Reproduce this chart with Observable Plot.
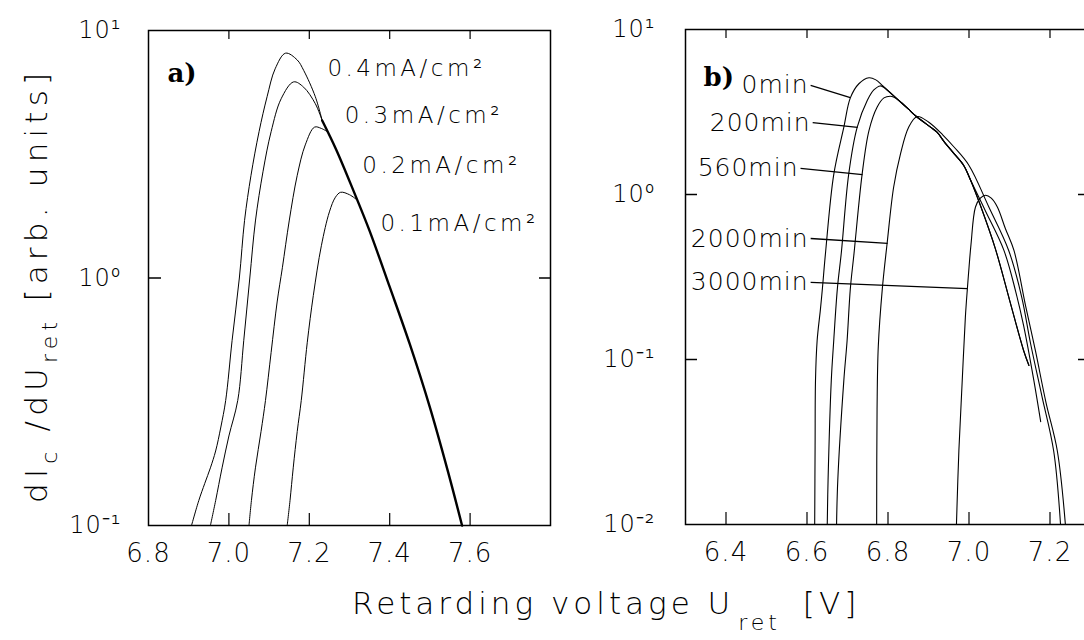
<!DOCTYPE html>
<html><head><meta charset="utf-8">
<script src="https://cdn.jsdelivr.net/npm/d3@7"></script>
<script src="https://cdn.jsdelivr.net/npm/@observablehq/plot@0.6"></script>
<style>
html,body{margin:0;padding:0;background:#fff;overflow:hidden;}
#wrap{position:relative;width:1084px;height:640px;overflow:hidden;background:#fff;}
#wrap > svg{position:absolute;top:0;}
</style></head><body><div id="wrap"></div>
<script>
const FONT = "DejaVu Sans";

// ---------- Panel a data ----------
const xTicksA = [6.8, 7.0, 7.2, 7.4, 7.6];
const xInnerTicksA = [7.0, 7.2, 7.4, 7.6];
const yTicksA = [0.1, 1, 10];
const seriesA = ["0.4mA/cm²", "0.3mA/cm²", "0.2mA/cm²", "0.1mA/cm²"];
const labelAX = [7.245, 7.288, 7.332, 7.377];
const labelAY = [7.02, 4.54, 2.85, 1.66];
const curveA04 = [[6.907,0.1],[6.925,0.126],[6.94,0.148],[6.954,0.171],[6.967,0.2],[6.98,0.25],[6.992,0.32],[7.008,0.56],[7.026,1.0],[7.039,1.71],[7.055,2.6],[7.075,3.9],[7.095,5.4],[7.115,7.0],[7.141,8.1],[7.17,7.6],[7.186,6.9],[7.215,5.4],[7.232,4.33]];
const curveA03 = [[6.954,0.1],[6.967,0.126],[6.983,0.171],[7.0,0.23],[7.022,0.32],[7.037,0.56],[7.052,1.0],[7.066,1.7],[7.085,2.7],[7.105,3.9],[7.13,5.3],[7.161,6.2],[7.186,5.9],[7.215,5.06],[7.232,4.33]];
const curveA02 = [[7.05,0.1],[7.056,0.126],[7.066,0.171],[7.08,0.24],[7.091,0.32],[7.105,0.5],[7.12,0.8],[7.133,1.1],[7.15,1.7],[7.17,2.6],[7.19,3.45],[7.213,4.07],[7.23,4.02],[7.245,3.9]];
const curveA01 = [[7.145,0.1],[7.152,0.126],[7.16,0.171],[7.17,0.24],[7.18,0.32],[7.195,0.55],[7.21,0.85],[7.23,1.35],[7.25,1.85],[7.265,2.12],[7.278,2.22],[7.30,2.17],[7.32,2.06]];
const tailA = [[7.232,4.33],[7.267,3.3],[7.31,2.25],[7.35,1.55],[7.40,0.92],[7.45,0.54],[7.50,0.30],[7.545,0.165],[7.58,0.1]];

// ---------- Panel b data ----------
const xTicksB = [6.4, 6.6, 6.8, 7.0, 7.2];
const yTicksB = [0.01, 0.1, 1, 10];
const yInnerTicksB = [0.1, 1];
const seriesB = ["0min", "200min", "560min", "2000min", "3000min"];
const leadStartX = [6.609, 6.614, 6.584, 6.609, 6.609];
const leadStartY = [4.58, 2.73, 1.44, 0.541, 0.293];
const leadEndX = [6.707, 6.725, 6.737, 6.799, 6.996];
const leadEndY = [3.87, 2.55, 1.32, 0.505, 0.269];
const b0Top = [[6.619,0.01],[6.620,0.03],[6.621,0.075],[6.625,0.13],[6.633,0.2],[6.638,0.269],[6.646,0.45],[6.666,1.32],[6.691,2.56],[6.707,3.85],[6.728,4.69],[6.753,5.1],[6.77,4.95],[6.785,4.6]];
const b200Top = [[6.650,0.01],[6.652,0.0185],[6.660,0.075],[6.666,0.13],[6.675,0.269],[6.685,0.45],[6.703,1.33],[6.724,2.56],[6.749,3.72],[6.765,4.3],[6.781,4.55],[6.79,4.45]];
const mergeB = [[6.798,4.3]];
const b560Top = [[6.673,0.01],[6.676,0.0185],[6.691,0.075],[6.699,0.13],[6.707,0.269],[6.716,0.437],[6.736,1.32],[6.753,2.44],[6.773,3.38],[6.79,3.85],[6.806,3.94],[6.815,3.88]];
const commonB = [[6.827,3.71],[6.85,3.3],[6.868,3.0],[6.905,2.56],[6.921,2.39],[6.938,2.1],[6.963,1.77],[6.987,1.5],[7.004,1.22]];
const b0Tail = [[7.028,0.86],[7.065,0.47],[7.10,0.23],[7.135,0.113],[7.148,0.092]];
const b560Tail = [[7.04,0.8],[7.086,0.46],[7.115,0.26],[7.135,0.16],[7.16,0.075],[7.177,0.042]];
const b2000 = [[6.772,0.01],[6.773,0.05],[6.776,0.12],[6.786,0.269],[6.798,0.51],[6.814,1.11],[6.831,1.77],[6.851,2.56],[6.872,2.97],[6.90,2.75],[6.935,2.3],[6.963,1.94],[7.0,1.5],[7.049,0.84],[7.098,0.458],[7.13,0.24],[7.152,0.125],[7.18,0.06],[7.209,0.028],[7.226,0.01]];
const b3000 = [[6.969,0.01],[6.975,0.028],[6.983,0.072],[6.991,0.18],[6.996,0.269],[7.0,0.36],[7.005,0.5],[7.016,0.84],[7.028,0.95],[7.041,0.99],[7.055,0.95],[7.07,0.84],[7.09,0.62],[7.111,0.458],[7.14,0.21],[7.164,0.113],[7.19,0.055],[7.218,0.028],[7.238,0.01]];

// ---------- Titles ----------
const xTitle = ["Retarding voltage U", "ret", " [V]"];
const yTitle = ["dI", "c", " /dU", "ret", " [arb. units]"];

const supMap = {"-":"⁻","0":"⁰","1":"¹","2":"²","3":"³"};
const pow10 = d => "10" + String(Math.round(Math.log10(d))).split("").map(c => supMap[c]).join("");
const toRows = (lists, names) => lists.flatMap((pts, i) => pts.map(([x, y]) => ({series: names[i], x, y})));

const rowsA = toRows([curveA04, curveA03, curveA02, curveA01], seriesA);
const rowsB = toRows([
  [...b0Top, ...mergeB, ...commonB, ...b0Tail],
  [...b200Top, ...mergeB, ...commonB, ...b0Tail],
  [...b560Top, ...commonB, ...b560Tail],
  b2000, b3000
], seriesB);

const baseStyle = {fontFamily: FONT, fontSize: "24px", fontWeight: 200, background: "white", color: "black", overflow: "visible"};

const plotA = Plot.plot({
  width: 560, height: 640, marginLeft: 148, marginRight: 10, marginTop: 30, marginBottom: 115,
  x: {domain: [6.8, 7.8]},
  y: {type: "log", domain: [0.1, 10]},
  style: baseStyle,
  marks: [
    Plot.axisX({ticks: xTicksA, tickFormat: d3.format(".1f"), tickSize: 0, tickPadding: 18, fontSize: 26, label: null}),
    Plot.axisY({ticks: yTicksA, tickFormat: pow10, tickSize: 0, tickPadding: 27, fontSize: 24, label: null}),
    Plot.tickX(xInnerTicksA, {x: d => d, insetTop: 483, strokeWidth: 1.2}),
    Plot.tickX(xInnerTicksA, {x: d => d, insetBottom: 486, strokeWidth: 1.2}),
    Plot.tickY([1], {y: d => d, insetRight: 389, strokeWidth: 1.5}),
    Plot.tickY([1], {y: d => d, insetLeft: 391, strokeWidth: 1.5}),
    Plot.line(rowsA, {x: "x", y: "y", z: "series", curve: "catmull-rom", stroke: "black", strokeWidth: 1}),
    Plot.line(tailA, {x: d => d[0], y: d => d[1], curve: "catmull-rom", stroke: "black", strokeWidth: 2.4}),
    Plot.text(seriesA, {x: (d, i) => labelAX[i], y: (d, i) => labelAY[i], text: d => d, textAnchor: "start", fontSize: 23, fill: "black"}),
    Plot.frame({stroke: "black", strokeWidth: 1.5}),
    Plot.text(["a)"], {text: d => d, frameAnchor: "top-left", dx: 19, dy: 43, lineAnchor: "middle", textAnchor: "start", fontFamily: "DejaVu Serif", fontWeight: "bold", fontSize: 26, fill: "black"})
  ]
});

const plotB = Plot.plot({
  width: 540, height: 640, marginLeft: 125, marginRight: 10, marginTop: 29, marginBottom: 116,
  x: {domain: [6.3, 7.3]},
  y: {type: "log", domain: [0.01, 10]},
  style: baseStyle,
  marks: [
    Plot.axisX({ticks: xTicksB, tickFormat: d3.format(".1f"), tickSize: 0, tickPadding: 18, fontSize: 26, label: null}),
    Plot.axisY({ticks: yTicksB, tickFormat: pow10, tickSize: 0, tickPadding: 30, fontSize: 24, label: null}),
    Plot.tickX(xTicksB, {x: d => d, insetTop: 483, strokeWidth: 1.2}),
    Plot.tickX(xTicksB, {x: d => d, insetBottom: 486, strokeWidth: 1.2}),
    Plot.tickY(yInnerTicksB, {y: d => d, insetRight: 393, strokeWidth: 1.5}),
    Plot.tickY(yInnerTicksB, {y: d => d, insetLeft: 393, strokeWidth: 1.5}),
    Plot.line(rowsB, {x: "x", y: "y", z: "series", curve: "catmull-rom", stroke: "black", strokeWidth: 1.1}),
    Plot.link(seriesB, {x1: (d, i) => leadStartX[i], y1: (d, i) => leadStartY[i], x2: (d, i) => leadEndX[i], y2: (d, i) => leadEndY[i], stroke: "black", strokeWidth: 1.3}),
    Plot.text(seriesB, {x: (d, i) => leadStartX[i], y: (d, i) => leadStartY[i], text: d => d, textAnchor: "end", dx: -2, fontSize: 25, fill: "black"}),
    Plot.frame({stroke: "black", strokeWidth: 1.5}),
    Plot.text(["b)"], {text: d => d, frameAnchor: "top-left", dx: 18, dy: 48, lineAnchor: "middle", textAnchor: "start", fontFamily: "DejaVu Serif", fontWeight: "bold", fontSize: 26, fill: "black"})
  ]
});

const wrap = document.getElementById("wrap");
plotA.style.left = "0px";
plotB.style.left = "560px";
wrap.appendChild(plotA);
wrap.appendChild(plotB);

// letter spacing for the annotation labels
d3.select(plotA).selectAll("text").filter(function() { return /mA/.test(this.textContent); }).attr("letter-spacing", 3.5);
d3.select(plotB).selectAll("text").filter(function() { return /min/.test(this.textContent); }).attr("letter-spacing", 1);
d3.select(plotA).selectAll("g[aria-label='x-axis tick label'] text, g[aria-label='y-axis tick label'] text").attr("letter-spacing", 1);
d3.select(plotB).selectAll("g[aria-label='x-axis tick label'] text, g[aria-label='y-axis tick label'] text").attr("letter-spacing", 1);

// shared axis titles
const t = d3.select(wrap).append("svg").attr("width", 1084).attr("height", 640)
  .style("left", "0px").style("pointer-events", "none");
const xt = t.append("text").attr("x", 352).attr("y", 614)
  .attr("font-family", FONT).attr("font-weight", 200).attr("font-size", 31)
  .attr("letter-spacing", 4).style("white-space", "pre").attr("fill", "black");
xt.append("tspan").text(xTitle[0]);
xt.append("tspan").attr("dy", 16).attr("dx", 4).attr("font-size", 22).text(xTitle[1]);
xt.append("tspan").attr("dy", -16).attr("dx", 8).text(xTitle[2]);

const yt = t.append("text").attr("transform", "translate(47,503) rotate(-90)")
  .attr("font-family", FONT).attr("font-weight", 200).attr("font-size", 31)
  .attr("letter-spacing", 5.2).style("white-space", "pre").attr("fill", "black");
yt.append("tspan").text(yTitle[0]);
yt.append("tspan").attr("dy", 10).attr("font-size", 22).text(yTitle[1]);
yt.append("tspan").attr("dy", -10).text(yTitle[2]);
yt.append("tspan").attr("dy", 10).attr("font-size", 22).text(yTitle[3]);
yt.append("tspan").attr("dy", -10).text(yTitle[4]);
</script></body></html>
